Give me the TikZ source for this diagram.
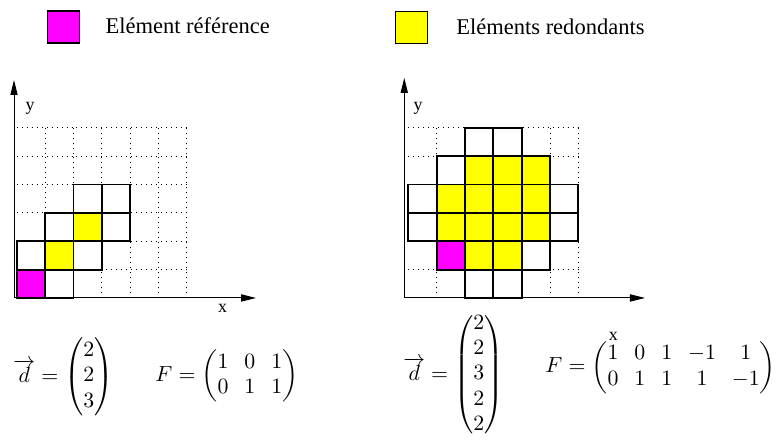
\documentclass[tikz,border=0pt]{standalone}
\usepackage{amsmath}
\usepackage{fontspec}
\usepackage{tikz}
\usetikzlibrary{arrows.meta, positioning}
\newfontfamily\figfont{Liberation Serif}
\definecolor{refmagenta}{RGB}{255,0,255}
\definecolor{redundyellow}{RGB}{255,255,0}
\setlength{\arraycolsep}{4pt}
\tikzset{
  cellbox/.style={draw=black, line width=0.9pt},
  refcell/.style={cellbox, fill=refmagenta},
  redcell/.style={cellbox, fill=redundyellow},
  emptycell/.style={cellbox, fill=white},
  gridline/.style={dotted, line width=0.5pt, color=black},
  axis/.style={-{Triangle[length=7.5bp, width=3.6bp]}, line width=0.5pt, color=black},
  legendbox/.style={rectangle, draw=black, line width=0.8pt,
    minimum size=0.56cm, inner sep=0pt},
  legendtext/.style={font=\figfont\fontsize{11.3}{13.6}\selectfont,
    inner sep=0pt, anchor=west},
  axislabel/.style={font=\figfont\fontsize{9}{11}\selectfont, inner sep=0pt},
  formula/.style={font=\fontsize{10.8}{12.6}\selectfont, inner sep=0pt, anchor=west}
}

\begin{document}
\begin{tikzpicture}
  \useasboundingbox (0,0) rectangle (13.794,7.796);

  % Legend
  \node[legendbox, fill=refmagenta] (refbox) at (1.120,7.320) {};
  \node[legendtext, right=0.44cm of refbox, yshift=0.02cm] (reftext) {Elément référence};
  \node[legendbox, fill=redundyellow] (redbox) at (7.258,7.311) {};
  \node[legendtext, right=0.49cm of redbox, yshift=0.02cm] (redtext) {Eléments redondants};

  % Left grid
  \foreach \i in {1,...,6} {
    \draw[gridline] ({0.295+0.5*\i},2.54) -- ++(0,3);
    \draw[gridline] (0.295,{2.54+0.5*\i}) -- ++(3,0);
  }
  \foreach \c/\r in {1/0,0/1,2/1,1/2,3/2,2/3,3/3}
    \draw[emptycell] ({0.295+0.5*\c},{2.54+0.5*\r}) rectangle ++(0.5,0.5);
  \foreach \c/\r in {1/1,2/2}
    \draw[redcell] ({0.295+0.5*\c},{2.54+0.5*\r}) rectangle ++(0.5,0.5);
  \draw[refcell] (0.295,2.54) rectangle ++(0.5,0.5);

  % Left axes
  \coordinate (o1) at (0.247,2.54);
  \coordinate (xend1) at (4.516,2.54);
  \coordinate (yend1) at (0.247,6.385);
  \draw[axis] (o1) -- (xend1);
  \draw[axis] (o1) -- (yend1);
  \node[axislabel] (ylab1) at (0.529,5.891) {y};
  \node[axislabel] (xlab1) at (3.928,2.358) {x};

  % Right grid
  \foreach \i in {1,...,6} {
    \draw[gridline] ({7.202+0.5*\i},2.54) -- ++(0,3);
    \draw[gridline] (7.202,{2.54+0.5*\i}) -- ++(3,0);
  }
  \foreach \c/\r in {2/0,3/0,4/1,0/2,5/2,0/3,5/3,1/4,2/5,3/5}
    \draw[emptycell] ({7.202+0.5*\c},{2.54+0.5*\r}) rectangle ++(0.5,0.5);
  \foreach \c/\r in {2/1,3/1,1/2,2/2,3/2,4/2,1/3,2/3,3/3,4/3,2/4,3/4,4/4}
    \draw[redcell] ({7.202+0.5*\c},{2.54+0.5*\r}) rectangle ++(0.5,0.5);
  \draw[refcell] (7.702,3.04) rectangle ++(0.5,0.5);

  % Right axes
  \coordinate (o2) at (7.131,2.54);
  \coordinate (xend2) at (11.377,2.54);
  \coordinate (yend2) at (7.131,6.421);
  \draw[axis] (o2) -- (xend2);
  \draw[axis] (o2) -- (yend2);
  \node[axislabel] (ylab2) at (7.373,5.891) {y};
  \node[axislabel] (xlab2) at (10.818,1.857) {x};

  % Formulas
  \node[formula] (dleft) at (0.229,1.147)
    {$\overrightarrow{d}=\begin{pmatrix}2\\2\\3\end{pmatrix}$};
  \node[formula] (fleft) at (2.734,1.164)
    {$F=\begin{pmatrix}1&0&1\\0&1&1\end{pmatrix}$};
  \node[formula] (dright) at (7.108,1.182)
    {$\overrightarrow{d}=\begin{pmatrix}2\\2\\3\\2\\2\end{pmatrix}$};
  \node[formula] (fright) at (9.613,1.314)
    {$F=\begin{pmatrix}1&0&1&-1&1\\0&1&1&1&-1\end{pmatrix}$};

\end{tikzpicture}
\end{document}
